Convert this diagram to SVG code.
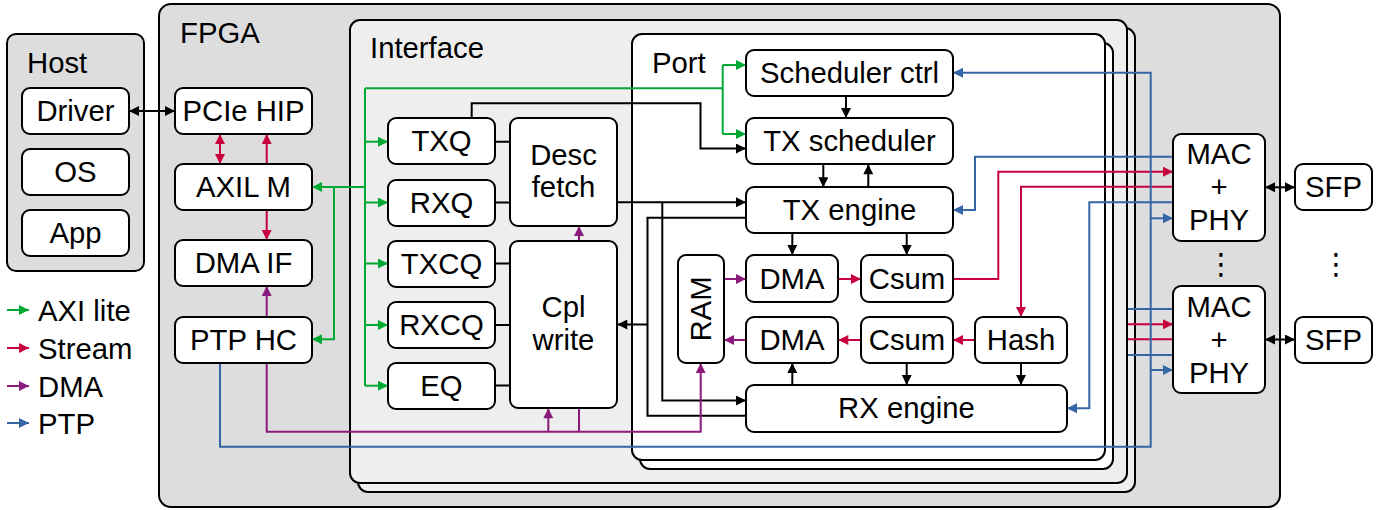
<svg xmlns="http://www.w3.org/2000/svg" width="1391" height="510" viewBox="0 0 1391 510">
<style>
text{font-family:"Liberation Sans",Arial,sans-serif;font-size:29.3px;fill:#000}
.c{text-anchor:middle}
.box{fill:#fff;stroke:#000;stroke-width:2}
.outer{fill:#dddddd;stroke:#000;stroke-width:2}
.mid{fill:#eeeeee;stroke:#000;stroke-width:2}
.port{fill:#fff;stroke:#000;stroke-width:2}
.k{fill:none;stroke:#000;stroke-width:2}
.g{fill:none;stroke:#00a933;stroke-width:2}
.r{fill:none;stroke:#c8003f;stroke-width:2}
.p{fill:none;stroke:#8a1a7c;stroke-width:2}
.b{fill:none;stroke:#3465a4;stroke-width:2}
.ak{marker-end:url(#mk)}.ag{marker-end:url(#mg)}.ar{marker-end:url(#mr)}.ap{marker-end:url(#mp)}.ab{marker-end:url(#mb)}
</style>
<defs>
<marker id="mk" viewBox="0 0 10 10" refX="10" refY="5" markerWidth="11" markerHeight="10" markerUnits="userSpaceOnUse" orient="auto-start-reverse"><path d="M0,0L10,5L0,10z" fill="#000"/></marker>
<marker id="mg" viewBox="0 0 10 10" refX="10" refY="5" markerWidth="11" markerHeight="10" markerUnits="userSpaceOnUse" orient="auto-start-reverse"><path d="M0,0L10,5L0,10z" fill="#00a933"/></marker>
<marker id="mr" viewBox="0 0 10 10" refX="10" refY="5" markerWidth="11" markerHeight="10" markerUnits="userSpaceOnUse" orient="auto-start-reverse"><path d="M0,0L10,5L0,10z" fill="#c8003f"/></marker>
<marker id="mp" viewBox="0 0 10 10" refX="10" refY="5" markerWidth="11" markerHeight="10" markerUnits="userSpaceOnUse" orient="auto-start-reverse"><path d="M0,0L10,5L0,10z" fill="#8a1a7c"/></marker>
<marker id="mb" viewBox="0 0 10 10" refX="10" refY="5" markerWidth="11" markerHeight="10" markerUnits="userSpaceOnUse" orient="auto-start-reverse"><path d="M0,0L10,5L0,10z" fill="#3465a4"/></marker>
</defs>

<g id="host"><rect class="outer" x="7" y="34" width="137" height="237" rx="9"/><text x="27" y="73">Host</text></g>
<g id="fpga"><rect class="outer" x="159" y="4" width="1121" height="503" rx="12"/><text x="180" y="43">FPGA</text></g>
<g id="interface">
<rect class="mid" x="358" y="28" width="777" height="464" rx="10"/>
<rect class="mid" x="350" y="20" width="777" height="463" rx="10"/>
<text x="370" y="58">Interface</text></g>
<g id="port">
<rect class="port" x="640" y="43" width="473" height="426" rx="10"/>
<rect class="port" x="632" y="34" width="473" height="426" rx="10"/>
<text x="652" y="73">Port</text></g>

<g id="legend">
<path class="g ag" d="M7,310H29"/><text x="38" y="321">AXI lite</text>
<path class="r ar" d="M7,348H29"/><text x="38" y="359">Stream</text>
<path class="p ap" d="M7,386H29"/><text x="38" y="397">DMA</text>
<path class="b ab" d="M7,423H29"/><text x="38" y="434">PTP</text>
</g>

<g id="connectors">
<path class="k ak" style="marker-start:url(#mk)" d="M129,111H175"/>
<path class="k" d="M495,141.7H510M495,202.5H510M495,263.5H510M495,325H510M495,385.5H510"/>
<path class="k ak" d="M471.7,118V103.3H700.5V148.5H746"/>
<path class="k ak" d="M617,202.3H746"/>
<path class="k ak" d="M662.3,202.3V400.5H746"/>
<path class="k" d="M746,217.7H647.5V415.7H746"/>
<path class="k ak" d="M647.5,324.5H617.3"/>
<path class="k ak" d="M846,96V118"/>
<path class="k ak" d="M823.3,164.3V187.3"/>
<path class="k ak" d="M868.3,187.3V164.3"/>
<path class="k ak" d="M792.3,233V255"/>
<path class="k ak" d="M906.7,233V255"/>
<path class="k ak" d="M792.3,385V363"/>
<path class="k ak" d="M906.7,363V385"/>
<path class="k ak" d="M1021,363V385"/>
<path class="k ak" style="marker-start:url(#mk)" d="M1265,187.3H1295"/>
<path class="k ak" style="marker-start:url(#mk)" d="M1265,339.5H1295"/>

<path class="r ar" style="marker-start:url(#mr)" d="M220,134V164"/>
<path class="r ar" d="M266.7,164V134"/>
<path class="r ar" d="M266.7,210V240"/>
<path class="r ar" d="M838.3,279H861"/>
<path class="r ar" d="M953,279H998.3V171.7H1173"/>
<path class="r ar" d="M1173,186.7H1021V317"/>
<path class="r ar" d="M975,340H953"/>
<path class="r ar" d="M861,340H838.3"/>
<path class="r ar" d="M1128,324.3H1173"/>
<path class="r" d="M1128,339.3H1173"/>

<path class="p ap" d="M266.7,317V286"/>
<path class="p ap" d="M266.7,363V431.7H700.7V363"/>
<path class="p ap" d="M548.3,431.7V408.3"/>
<path class="p" d="M579,408.3V431.7"/>
<path class="p ap" d="M579,241V226"/>
<path class="p ap" d="M724,279H746"/>
<path class="p ap" d="M746,340H724"/>

<path class="b ab" d="M220,363V446.7H1150.7V72.7H953"/>
<path class="b ab" d="M1150.7,218.3H1173"/>
<path class="b ab" d="M1150.7,370H1173"/>
<path class="b ab" d="M1173,156.7H975V210H953"/>
<path class="b ab" d="M1173,202.3H1089.3V408.3H1067"/>
<path class="b" d="M1128,309H1173M1128,355H1173"/>

<path class="g ag" d="M365,187H312"/>
<path class="g ag" d="M334,187V339.3H312"/>
<path class="g" d="M365,88.3V385.7"/>
<path class="g ag" d="M365,141.7H388"/>
<path class="g ag" d="M365,202.5H388"/>
<path class="g ag" d="M365,263.5H388"/>
<path class="g ag" d="M365,325H388"/>
<path class="g ag" d="M365,385.7H388"/>
<path class="g" d="M365,88.3H722.7"/>
<path class="g" d="M722.7,65V134"/>
<path class="g ag" d="M722.7,65H746"/>
<path class="g ag" d="M722.7,134H746"/>
</g>

<g id="driver"><rect class="box" x="22" y="88" width="107" height="46" rx="8"/><text class="c" x="75.5" y="121">Driver</text></g>
<g id="os"><rect class="box" x="22" y="149" width="107" height="46" rx="8"/><text class="c" x="75.5" y="182">OS</text></g>
<g id="app"><rect class="box" x="22" y="210" width="107" height="46" rx="8"/><text class="c" x="75.5" y="243">App</text></g>

<g id="pcie"><rect class="box" x="175" y="88" width="137" height="46" rx="8"/><text class="c" x="243.5" y="121">PCIe HIP</text></g>
<g id="axil"><rect class="box" x="175" y="164" width="137" height="46" rx="8"/><text class="c" x="243.5" y="197">AXIL M</text></g>
<g id="dmaif"><rect class="box" x="175" y="240" width="137" height="46" rx="8"/><text class="c" x="243.5" y="273">DMA IF</text></g>
<g id="ptphc"><rect class="box" x="175" y="317" width="137" height="46" rx="8"/><text class="c" x="243.5" y="350">PTP HC</text></g>

<g id="txq"><rect class="box" x="388" y="118" width="107" height="46" rx="8"/><text class="c" x="441.5" y="151">TXQ</text></g>
<g id="rxq"><rect class="box" x="388" y="180" width="107" height="46" rx="8"/><text class="c" x="441.5" y="213">RXQ</text></g>
<g id="txcq"><rect class="box" x="388" y="241" width="107" height="46" rx="8"/><text class="c" x="441.5" y="274">TXCQ</text></g>
<g id="rxcq"><rect class="box" x="388" y="302" width="107" height="46" rx="8"/><text class="c" x="441.5" y="335">RXCQ</text></g>
<g id="eq"><rect class="box" x="388" y="363" width="107" height="46" rx="8"/><text class="c" x="441.5" y="396">EQ</text></g>
<g id="descfetch"><rect class="box" x="510" y="118" width="107" height="108" rx="8"/><text class="c" x="563.5" y="165">Desc</text><text class="c" x="563.5" y="197">fetch</text></g>
<g id="cplwrite"><rect class="box" x="510" y="241" width="107" height="167" rx="8"/><text class="c" x="563.5" y="317">Cpl</text><text class="c" x="563.5" y="350">write</text></g>

<g id="schedctrl"><rect class="box" x="746" y="50" width="207" height="46" rx="8"/><text class="c" x="849.5" y="83">Scheduler ctrl</text></g>
<g id="txsched"><rect class="box" x="746" y="118" width="207" height="46" rx="8"/><text class="c" x="849.5" y="151">TX scheduler</text></g>
<g id="txengine"><rect class="box" x="746" y="187" width="207" height="46" rx="8"/><text class="c" x="849.5" y="220">TX engine</text></g>
<g id="ram"><rect class="box" x="678" y="255" width="46" height="108" rx="8"/><text class="c" transform="translate(711,309) rotate(-90)">RAM</text></g>
<g id="dmatx"><rect class="box" x="746" y="255" width="92" height="47" rx="8"/><text class="c" x="792" y="289">DMA</text></g>
<g id="csumtx"><rect class="box" x="861" y="255" width="92" height="47" rx="8"/><text class="c" x="907" y="289">Csum</text></g>
<g id="dmarx"><rect class="box" x="746" y="317" width="92" height="46" rx="8"/><text class="c" x="792" y="350">DMA</text></g>
<g id="csumrx"><rect class="box" x="861" y="317" width="92" height="46" rx="8"/><text class="c" x="907" y="350">Csum</text></g>
<g id="hash"><rect class="box" x="975" y="317" width="92" height="46" rx="8"/><text class="c" x="1021" y="350">Hash</text></g>
<g id="rxengine"><rect class="box" x="746" y="385" width="321" height="47" rx="8"/><text class="c" x="906.5" y="418">RX engine</text></g>

<g id="mac1"><rect class="box" x="1173" y="134" width="92" height="107" rx="8"/><text class="c" x="1219" y="164">MAC</text><text class="c" x="1219" y="197">+</text><text class="c" x="1219" y="230">PHY</text></g>
<g id="mac2"><rect class="box" x="1173" y="286" width="92" height="107" rx="8"/><text class="c" x="1219" y="317">MAC</text><text class="c" x="1219" y="350">+</text><text class="c" x="1219" y="383">PHY</text></g>
<g id="sfp1"><rect class="box" x="1295" y="164" width="77" height="46" rx="8"/><text class="c" x="1333.5" y="197">SFP</text></g>
<g id="sfp2"><rect class="box" x="1295" y="317" width="77" height="46" rx="8"/><text class="c" x="1333.5" y="350">SFP</text></g>
<g id="dots">
<text class="c" x="1221" y="274" style="font-family:'DejaVu Sans',sans-serif">⋮</text>
<text class="c" x="1336" y="274" style="font-family:'DejaVu Sans',sans-serif">⋮</text>
</g>
</svg>
